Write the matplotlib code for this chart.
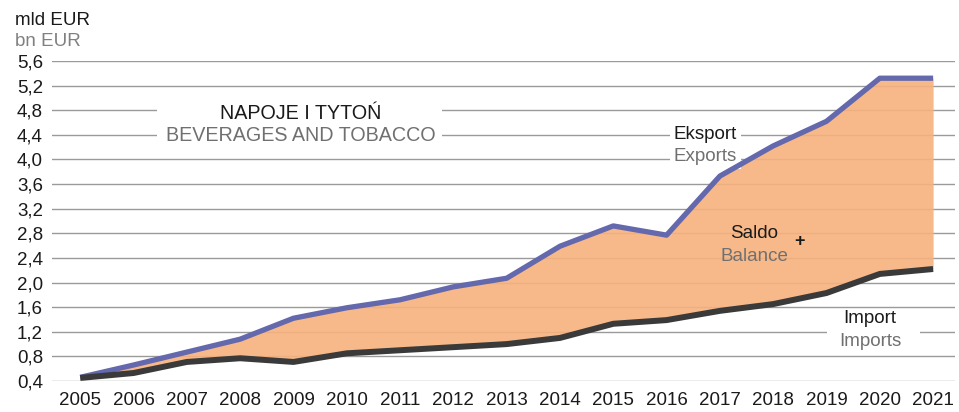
import numpy as np
import matplotlib.pyplot as plt
from matplotlib.patches import Rectangle

plt.rcParams['font.family'] = ['Liberation Sans', 'DejaVu Sans']

years = np.arange(2005, 2022)
exports = [0.46, 0.66, 0.87, 1.08, 1.42, 1.59, 1.72, 1.93, 2.07, 2.59,
           2.92, 2.77, 3.73, 4.22, 4.62, 5.32, 5.32]
imports = [0.45, 0.53, 0.71, 0.77, 0.71, 0.85, 0.90, 0.95, 1.00, 1.10,
           1.33, 1.39, 1.54, 1.65, 1.83, 2.14, 2.22]
yticks = np.arange(0.4, 5.61, 0.4)
ytick_labels = [f'{v:.1f}'.replace('.', ',') for v in yticks]

fig = plt.figure(figsize=(9.59, 4.12), dpi=100)
ax = fig.add_axes([0.0542, 0.0752, 0.9416, 0.7768])

# grid first, area slightly transparent so the lines show through
for v in yticks:
    ax.axhline(v, color='#9a9a9a', lw=1.0, zorder=1)

ax.fill_between(years, imports, exports, color='#F7B27C', alpha=0.9, lw=0, zorder=2)
ax.plot(years, exports, color='#6468AC', lw=3.8, solid_capstyle='butt', zorder=4, clip_on=False)
ax.plot(years, imports, color='#3a3a3a', lw=4.3, solid_capstyle='butt', zorder=5, clip_on=False)

ax.set_xlim(2004.47, 2021.41)
ax.set_ylim(0.4, 5.6)
ax.set_yticks(yticks)
ax.set_yticklabels(ytick_labels)
ax.set_xticks(years)
ax.tick_params(axis='both', length=0, labelsize=13.5, colors='#1a1a1a')
ax.tick_params(axis='y', pad=6.5)
ax.tick_params(axis='x', pad=8)
for s in ax.spines.values():
    s.set_visible(False)

white = dict(facecolor='white', edgecolor='none', pad=2.5)
white_tight = dict(facecolor='white', edgecolor='none', pad=1.0)

# title block on a white panel that breaks the grid
ax.add_patch(Rectangle((2006.44, 4.3), 5.35, 0.6, facecolor='white',
                       edgecolor='none', zorder=3))
ax.text(2009.13, 4.74, 'NAPOJE I TYTOŃ', ha='center', va='center', fontsize=14.2,
        color='#1a1a1a', zorder=3)
ax.text(2009.13, 4.39, 'BEVERAGES AND TOBACCO', ha='center', va='center', fontsize=14.2,
        color='#707070', zorder=3)

# series labels
ax.text(2016.73, 4.40, 'Eksport', ha='center', va='center', fontsize=13.5,
        color='#1a1a1a', zorder=3, bbox=white)
ax.text(2016.73, 4.04, 'Exports', ha='center', va='center', fontsize=13.5,
        color='#707070', zorder=3, bbox=white)
ax.text(2017.65, 2.79, 'Saldo', ha='center', va='center', fontsize=13.5,
        color='#1a1a1a', zorder=3)
ax.text(2017.65, 2.43, 'Balance', ha='center', va='center', fontsize=13.5,
        color='#707070', zorder=3)
ax.text(2018.49, 2.67, '+', ha='center', va='center', fontsize=13,
        fontweight='bold', color='#1a1a1a', zorder=3)
ax.text(2019.82, 1.41, 'Import', ha='center', va='center', fontsize=13.5,
        color='#1a1a1a', zorder=3)
ax.add_patch(Rectangle((2019.0, 1.12), 1.75, 0.16, facecolor='white',
                       edgecolor='none', zorder=1.5))
ax.text(2019.82, 1.05, 'Imports', ha='center', va='center', fontsize=13.5,
        color='#707070', zorder=3, bbox=white_tight)

# unit header
fig.text(0.016, 0.951, 'mld EUR', ha='left', va='center', fontsize=13.5, color='#1a1a1a')
fig.text(0.016, 0.900, 'bn EUR', ha='left', va='center', fontsize=13.5, color='#808080')

fig.savefig('out.png', dpi=100)
